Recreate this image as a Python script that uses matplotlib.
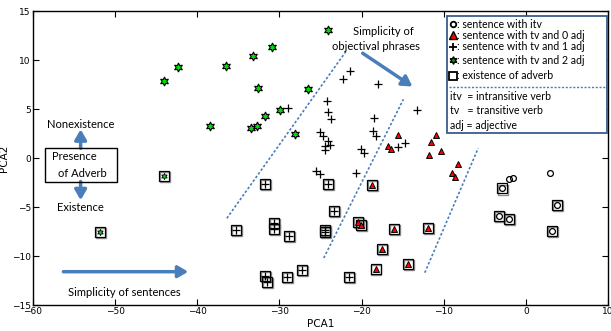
import numpy as np
import matplotlib.pyplot as plt
from matplotlib.patches import Rectangle

# sentence with itv (circles)
itv_x = [-2.0, -1.5, 2.9]
itv_y = [-2.1, -2.0, -1.5]
itv_adv_x = [-2.9, -3.3, -2.0, 3.75, 3.2]
itv_adv_y = [-3.1, -5.9, -6.2, -4.8, -7.4]

# sentence with tv and 0 adj (red triangles)
tv0_x = [-15.6, -16.8, -16.4, -10.9, -11.5, -10.3, -11.8, -8.3, -9.0, -8.6]
tv0_y = [2.35, 1.2, 0.95, 2.35, 1.6, 0.7, 0.3, -0.6, -1.55, -1.97]
tv0_adv_x = [-18.7, -20.4, -20.1, -16.1, -11.9, -17.55, -18.3, -14.35]
tv0_adv_y = [-2.7, -6.5, -6.8, -7.2, -7.1, -9.3, -11.3, -10.8]

# sentence with tv and 1 adj (plus)
tv1_x = [-21.4, -22.3, -18.0, -29.0, -24.2, -24.1, -23.7, -18.5, -13.3, -25.1, -24.7,
         -18.6, -18.2, -24.1, -23.8, -24.5, -24.5, -20.1, -19.7, -14.7, -15.5, -20.7,
         -25.5, -25.1]
tv1_y = [8.9, 8.1, 7.6, 5.1, 5.85, 4.7, 4.0, 4.05, 4.9, 2.7, 2.3,
         2.75, 2.2, 1.73, 1.33, 1.26, 0.82, 0.92, 0.48, 1.53, 1.15, -1.56,
         -1.3, -1.66]
tv1_adv_x = [-31.7, -24.1, -23.4, -35.3, -30.6, -30.6, -28.8, -24.4, -24.4,
             -31.8, -31.55, -29.1, -27.2, -21.5]
tv1_adv_y = [-2.6, -2.6, -5.4, -7.3, -6.6, -7.2, -7.96, -7.3, -7.5,
             -12.0, -12.6, -12.1, -11.4, -12.1]

# sentence with tv and 2 adj (green stars)
tv2_x = [-24.1, -30.9, -33.2, -42.3, -36.5, -44.1, -32.6, -26.5, -29.9, -31.8,
         -38.5, -33.5, -32.7, -28.1]
tv2_y = [13.06, 11.3, 10.4, 9.3, 9.4, 7.9, 7.2, 7.0, 4.9, 4.3,
         3.3, 3.1, 3.3, 2.45]
tv2_adv_x = [-44.0, -51.9]
tv2_adv_y = [-1.84, -7.5]

# dashed separators
sep_x = [[-36.4, -21.8], [-24.6, -14.9], [-12.3, -5.8]]
sep_y = [[-6.15, 11.0], [-10.2, 6.0], [-11.7, 1.0]]

legend_lines = ['sentence with itv', 'sentence with tv and 0 adj',
                'sentence with tv and 1 adj', 'sentence with tv and 2 adj',
                'existence of adverb']
abbrev_lines = ['itv  = intransitive verb', 'tv   = transitive verb', 'adj = adjective']

plt.rcParams['font.family'] = ['DejaVu Sans']
txt_font = 'Lato'
blue = '#4a7ebb'
fs = 8
fs_leg = 7.6

fig = plt.figure(figsize=(6.11, 3.31), dpi=100)
ax = fig.add_axes([0.054, 0.0785, 0.941, 0.888])

hexa = (6, 1, 0)
ms_box = 7.0

def box(x, y):
    ax.plot(np.array(x) + 0.12, np.array(y) - 0.12, 's', ms=ms_box, mfc='none', mec='0.55', mew=1.0)
    ax.plot(x, y, 's', ms=ms_box, mfc='none', mec='k', mew=0.9)

box(itv_adv_x, itv_adv_y)
box(tv0_adv_x, tv0_adv_y)
box(tv1_adv_x, tv1_adv_y)
box(tv2_adv_x, tv2_adv_y)

ax.plot(itv_x + itv_adv_x, itv_y + itv_adv_y, 'o', ms=4.2, mfc='none', mec='k', mew=0.9)
ax.plot(tv0_x + tv0_adv_x, tv0_y + tv0_adv_y, '^', ms=5.0, mfc='red', mec='k', mew=0.7)
ax.plot(tv1_x + tv1_adv_x, tv1_y + tv1_adv_y, '+', ms=6, mec='k', mew=0.9)
ax.plot(tv2_x, tv2_y, marker=hexa, ls='none', ms=6.5, mfc='#00e000', mec='k', mew=0.8)
ax.plot(tv2_adv_x, tv2_adv_y, marker=hexa, ls='none', ms=4.5, mfc='#00e000', mec='k', mew=0.6)

for xs, ys in zip(sep_x, sep_y):
    ax.plot(xs, ys, ls=(0, (1.5, 1.2)), color=blue, lw=1.2)

# arrows
arr = dict(arrowstyle='-|>,head_width=0.35,head_length=0.6', color=blue, lw=2.5, shrinkA=0, shrinkB=0)
ax.annotate('', xy=(-13.8, 7.3), xytext=(-19.86, 10.7), arrowprops=arr)
ax.annotate('', xy=(-41.1, -11.6), xytext=(-56.3, -11.6), arrowprops=arr)
ax.annotate('', xy=(-54.2, 2.93), xytext=(-54.2, 1.0), arrowprops=arr)
ax.annotate('', xy=(-54.2, -4.3), xytext=(-54.2, -2.4), arrowprops=arr)

ax.text(-17.4, 12.9, 'Simplicity of', family=txt_font, fontsize=fs, ha='center', va='center')
ax.text(-18.3, 11.35, 'objectival phrases', family=txt_font, fontsize=fs, ha='center', va='center')
ax.text(-55.7, -13.75, 'Simplicity of sentences', family=txt_font, fontsize=fs, ha='left', va='center')
ax.text(-54.2, 3.45, 'Nonexistence', family=txt_font, fontsize=fs, ha='center', va='center')
ax.text(-54.2, -5.0, 'Existence', family=txt_font, fontsize=fs, ha='center', va='center')
ax.add_patch(Rectangle((-58.5, -2.4), 8.7, 3.4, fill=False, ec='k', lw=1.0, zorder=3))
ax.text(-55.0, 0.2, 'Presence', family=txt_font, fontsize=fs, ha='center', va='center')
ax.text(-54.0, -1.55, 'of Adverb', family=txt_font, fontsize=fs, ha='center', va='center')

# legend drawn by hand
ax.add_patch(Rectangle((-9.6, 2.55), 19.5, 11.95, fc='white', ec='#385d8a', lw=1.3, zorder=4))
leg_x = -8.85
leg_y = [13.67, 12.55, 11.36, 10.0, 8.4]
ax.plot(leg_x, leg_y[0], 'o', ms=4, mfc='none', mec='k', mew=1.3, zorder=5)
ax.plot(leg_x, leg_y[1], '^', ms=5.5, mfc='red', mec='k', mew=1.0, zorder=5)
ax.plot(leg_x, leg_y[2], '+', ms=5.5, mec='k', mew=1.3, zorder=5)
ax.plot(leg_x, leg_y[3], marker=hexa, ls='none', ms=5.5, mfc='#00a000', mec='k', mew=1.0, zorder=5)
ax.plot(leg_x, leg_y[4], 's', ms=5.5, mfc='none', mec='k', mew=1.3, zorder=5)
for yy, t in zip(leg_y, legend_lines):
    ax.text(leg_x + 0.45, yy, ': ' + t, family=txt_font, fontsize=fs_leg, ha='left', va='center', zorder=5)
ax.plot([-9.3, 9.6], [7.28, 7.28], ls=(0, (1.5, 1.2)), color=blue, lw=1.0, zorder=5)
for yy, t in zip([6.33, 4.9, 3.37], abbrev_lines):
    ax.text(-9.2, yy, t, family=txt_font, fontsize=fs_leg, ha='left', va='center', zorder=5)

ax.set_xlim(-60, 10)
ax.set_ylim(-15, 15)
ax.set_xticks(np.arange(-60, 11, 10))
ax.set_yticks(np.arange(-15, 16, 5))
ax.tick_params(direction='in', top=True, right=True, labelsize=6.5, length=4, width=0.8, pad=1.5)
for s in ax.spines.values():
    s.set_linewidth(1.0)
ax.set_xlabel('PCA1', fontsize=7.5, labelpad=2)
ax.set_ylabel('PCA2', fontsize=7.5, labelpad=2)

fig.savefig('out.png', dpi=100)
